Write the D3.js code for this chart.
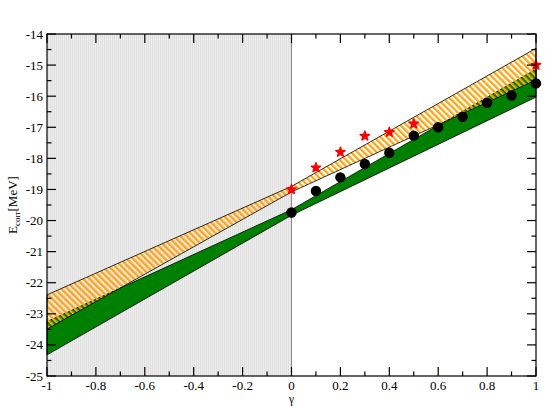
<!DOCTYPE html>
<html>
<head>
<meta charset="UTF-8" />
<script src="https://d3js.org/d3.v7.min.js"></script>
<style>
  body { margin: 0; background: #fff; }
</style>
</head>
<body>
<div id="chart"></div>
<script>
// band edges read at gamma = -1, 0, 1
const bandGamma = [-1, 0, 1];
const orangeUpper = [-22.39, -18.90, -14.46];
const orangeLower = [-23.49, -19.08, -15.48];
const greenUpper = [-23.25, -19.65, -15.13];
const greenLower = [-24.32, -19.83, -16.03];

// black points
const blackGamma = [0, 0.1, 0.2, 0.3, 0.4, 0.5, 0.6, 0.7, 0.8, 0.9, 1.0];
const blackE = [-19.74, -19.05, -18.61, -18.18, -17.82, -17.27, -17.0, -16.66, -16.21, -15.98, -15.59];

// red points
const redGamma = [0, 0.1, 0.2, 0.3, 0.4, 0.5, 1.0];
const redE = [-19.0, -18.30, -17.80, -17.28, -17.16, -16.89, -15.0];

const xTicks = [-1, -0.8, -0.6, -0.4, -0.2, 0, 0.2, 0.4, 0.6, 0.8, 1];
const yTicks = [-25, -24, -23, -22, -21, -20, -19, -18, -17, -16, -15, -14];

const width = 545, height = 406;
const margin = { top: 34, right: 9, bottom: 30, left: 47 };
const serif = "Liberation Serif";

const svg = d3.select("#chart").append("svg")
  .attr("width", width)
  .attr("height", height);

const x = d3.scaleLinear().domain([-1, 1]).range([margin.left, width - margin.right]);
const y = d3.scaleLinear().domain([-25, -14]).range([height - margin.bottom, margin.top]);

const defs = svg.append("defs");

// gray region texture
const gp = defs.append("pattern")
  .attr("id", "grayTex")
  .attr("patternUnits", "userSpaceOnUse")
  .attr("width", 2).attr("height", 2);
gp.append("rect").attr("width", 2).attr("height", 2).attr("fill", "#ededed");
gp.append("rect").attr("width", 1).attr("height", 2).attr("fill", "#e0e0e0");

// orange hatch
const op = defs.append("pattern")
  .attr("id", "orangeHatch")
  .attr("patternUnits", "userSpaceOnUse")
  .attr("width", 4.5).attr("height", 4.5)
  .attr("patternTransform", "rotate(-45)");
op.append("rect").attr("width", 2.3).attr("height", 4.5).attr("fill", "#ffa510");

// gray area gamma < 0
svg.append("rect")
  .attr("x", x(-1))
  .attr("y", y(-14))
  .attr("width", x(0) - x(-1))
  .attr("height", y(-25) - y(-14))
  .attr("fill", "url(#grayTex)");

svg.append("line")
  .attr("x1", x(0)).attr("x2", x(0))
  .attr("y1", y(-14)).attr("y2", y(-25))
  .attr("stroke", "#8a8a8a")
  .attr("stroke-width", 1);

function band(upper, lower) {
  const pts = bandGamma.map((g, i) => ({ g: g, hi: upper[i], lo: lower[i] }));
  return d3.area()
    .x(d => x(d.g))
    .y0(d => y(d.lo))
    .y1(d => y(d.hi))(pts);
}

svg.append("path")
  .attr("d", band(greenUpper, greenLower))
  .attr("fill", "#008000")
  .attr("stroke", "#000")
  .attr("stroke-width", 0.8);

svg.append("path")
  .attr("d", band(orangeUpper, orangeLower))
  .attr("fill", "url(#orangeHatch)")
  .attr("stroke", "#000")
  .attr("stroke-width", 0.8);

// points
svg.selectAll(".blk")
  .data(blackGamma)
  .enter().append("circle")
  .attr("class", "blk")
  .attr("cx", d => x(d))
  .attr("cy", (d, i) => y(blackE[i]))
  .attr("r", 5.2)
  .attr("fill", "#000");

const star = d3.symbol().type(d3.symbolStar).size(26);
svg.selectAll(".red")
  .data(redGamma)
  .enter().append("path")
  .attr("class", "red")
  .attr("d", star)
  .attr("transform", (d, i) => `translate(${x(d)},${y(redE[i])})`)
  .attr("fill", "#ff0000")
  .attr("stroke", "#ff0000")
  .attr("stroke-width", 1.6)
  .attr("stroke-linejoin", "round");

// frame
svg.append("rect")
  .attr("x", x(-1)).attr("y", y(-14))
  .attr("width", x(1) - x(-1))
  .attr("height", y(-25) - y(-14))
  .attr("fill", "none")
  .attr("stroke", "#000")
  .attr("stroke-width", 1.2);

// ticks on all sides, pointing in
const xMinor = d3.range(-10, 11).map(d => d / 10);
const yMinor = d3.range(-50, -27).map(d => d / 2);
const tg = svg.append("g").attr("stroke", "#000").attr("stroke-width", 1.2);
xMinor.forEach(v => {
  const major = Math.abs(Math.round(v * 10)) % 2 === 0;
  const len = major ? 9 : 4.5;
  tg.append("line").attr("x1", x(v)).attr("x2", x(v)).attr("y1", y(-25)).attr("y2", y(-25) - len);
  tg.append("line").attr("x1", x(v)).attr("x2", x(v)).attr("y1", y(-14)).attr("y2", y(-14) + len);
});
yMinor.forEach(v => {
  const major = Number.isInteger(v);
  const len = major ? 9 : 4.5;
  tg.append("line").attr("x1", x(-1)).attr("x2", x(-1) + len).attr("y1", y(v)).attr("y2", y(v));
  tg.append("line").attr("x1", x(1)).attr("x2", x(1) - len).attr("y1", y(v)).attr("y2", y(v));
});

// tick labels (plain hyphen as in the original)
const fmtX = d => (d === 0 || d === 1 || d === -1) ? String(d) : d.toFixed(1);

svg.selectAll(".xl")
  .data(xTicks)
  .enter().append("text")
  .attr("x", d => x(d))
  .attr("y", y(-25) + 13.5)
  .attr("text-anchor", "middle")
  .attr("font-family", serif)
  .attr("font-size", 13)
  .text(fmtX);

svg.selectAll(".yl")
  .data(yTicks)
  .enter().append("text")
  .attr("x", x(-1) - 4)
  .attr("y", d => y(d) + 4.5)
  .attr("text-anchor", "end")
  .attr("font-family", serif)
  .attr("font-size", 13)
  .text(d => String(d));

// axis titles
svg.append("text")
  .attr("x", x(0))
  .attr("y", 403)
  .attr("text-anchor", "middle")
  .attr("font-family", serif)
  .attr("font-size", 11.5)
  .text("γ");

const yt = svg.append("text")
  .attr("transform", `translate(17,${(y(-14) + y(-25)) / 2}) rotate(-90)`)
  .attr("text-anchor", "middle")
  .attr("font-family", serif)
  .attr("font-size", 13);
yt.append("tspan").text("E");
yt.append("tspan").attr("font-size", 9).attr("dy", 3).text("corr");
yt.append("tspan").attr("dy", -3).text("[MeV]");
</script>
</body>
</html>
